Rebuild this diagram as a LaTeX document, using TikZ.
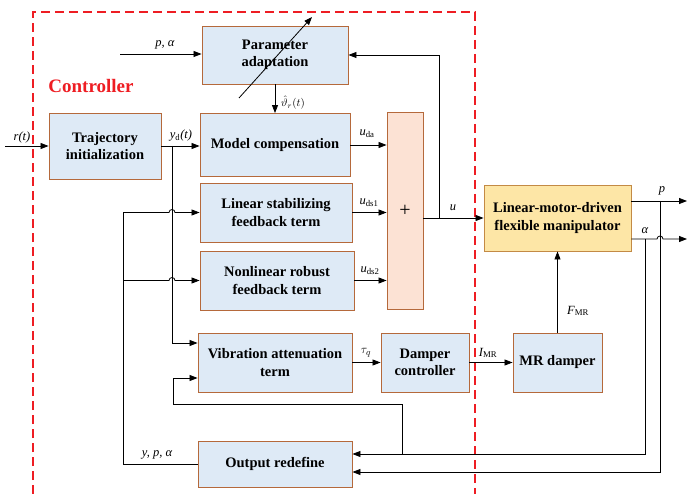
\documentclass[tikz,border=0pt]{standalone}
\usepackage{fontspec}
\setmainfont{Liberation Serif}
\usetikzlibrary{arrows.meta,calc}
\definecolor{boxblue}{HTML}{DEEAF6}
\definecolor{boxedge}{HTML}{B5693B}
\definecolor{sumfill}{HTML}{FCE2D4}
\definecolor{plantfill}{HTML}{FDE6A6}
\definecolor{plantedge}{HTML}{C38A45}
\definecolor{ctrlred}{HTML}{EE1D23}

\begin{document}
\begin{tikzpicture}[x=1pt, y=-1pt, >={Triangle[length=8pt,width=6pt]},
  every node/.style={font=\fontsize{14.5}{17.5}\selectfont\bfseries, align=center, inner sep=0pt},
  block/.style={draw=boxedge, fill=boxblue, line width=0.9pt},
  lab/.style={font=\fontsize{12.5}{14}\selectfont\itshape},
  line/.style={line width=0.8pt}]
  \useasboundingbox (0,0) rectangle (698,494);
  \draw[ctrlred, line width=1.4pt, dash pattern=on 9pt off 5pt] (33,494) -- (33,12) -- (475,12) -- (475,494);
  \node[text=ctrlred, font=\fontsize{19}{21}\selectfont\bfseries] (ctrl) at (91,86) {Controller};

  \node[block, minimum width=146, minimum height=58] (param) at (275,55) {Parameter\\adaptation};
  \node[block, minimum width=112, minimum height=66] (traj) at (105,146) {Trajectory\\initialization};
  \node[block, minimum width=150, minimum height=63] (model) at (275,145) {Model compensation};
  \node[block, minimum width=152, minimum height=59] (lin) at (276,212.5) {Linear stabilizing\\feedback term};
  \node[block, minimum width=154, minimum height=59] (nonlin) at (277,280.5) {Nonlinear robust\\feedback term};
  \node[block, fill=sumfill, minimum width=36, minimum height=197, font=\fontsize{20}{20}\selectfont] (sum) at (405,210.5) {+};
  \node[block, draw=plantedge, fill=plantfill, minimum width=147, minimum height=66] (manip) at (557.5,218) {Linear-motor-driven\\flexible manipulator};
  \node[block, minimum width=154, minimum height=59] (vib) at (275,362.5) {Vibration attenuation\\term};
  \node[block, minimum width=88, minimum height=59] (dampc) at (425,362.5) {Damper\\controller};
  \node[block, minimum width=89, minimum height=59] (mr) at (557.5,362.5) {MR damper};
  \node[block, minimum width=154, minimum height=46] (outr) at (275,464) {Output redefine};

  \coordinate (rin) at (5,146);
  \coordinate (pin) at (120,54);
  \coordinate (adapt1) at (239,98);
  \coordinate (adapt2) at (312,17);
  \coordinate (jyd) at (172,146);
  \coordinate (ju) at (439,218);
  \coordinate (fbtop) at (123,212.5);
  \coordinate (fbmid) at (123,280.5);
  \coordinate (pdown) at (660,201);
  \coordinate (pout) at (687,201);
  \coordinate (ajn) at (645,239);
  \coordinate (aout) at (687,239);
  \coordinate (vbr) at (402,454);
  \coordinate (vloop) at (173,404);

  \draw[line,->] (rin) -- (traj.west);
  \draw[line,->] (pin) -- (param.west |- pin);
  \draw[line,->] (adapt1) -- (adapt2);
  \draw[line,->] (param.south) -- (model.north);
  \draw[line,->] (traj.east) -- (model.west |- jyd);
  \draw[line,->] (jyd) |- ([yshift=19.5pt]vib.west);
  \draw[line,->] (model.east) -- (sum.west |- model.east);
  \draw[line,->] (lin.east) -- (sum.west |- lin.east);
  \draw[line,->] (nonlin.east) -- (sum.west |- nonlin.east);
  \draw[line,->] (sum.east |- ju) -- (manip.west |- ju);
  \draw[line,->] (ju) |- (param.east);
  \draw[line,->] (vib.east) -- (dampc.west);
  \draw[line,->] (dampc.east) -- (mr.west);
  \draw[line,->] (mr.north) -- (manip.south);
  \draw[line,->] (manip.east |- pout) -- (pout);
  \draw[line,->] (manip.east |- aout) -- ($(pdown |- aout)+(-3,0)$) arc[start angle=180, end angle=0, radius=3pt] -- (aout);
  \draw[line,->] (pdown) |- ([yshift=-8pt]outr.east);
  \draw[line,->] (ajn) |- ([yshift=10pt]outr.east);
  \draw[line,->] (vbr) |- (vloop) |- ([yshift=-15.5pt]vib.west);
  \draw[line] (outr.west) -| (fbtop);
  \draw[line,->] (fbtop) -- ($(jyd |- fbtop)+(-3,0)$) arc[start angle=180, end angle=0, radius=3pt] -- (lin.west);
  \draw[line,->] (fbmid) -- ($(jyd |- fbmid)+(-3,0)$) arc[start angle=180, end angle=0, radius=3pt] -- (nonlin.west);

  \node[lab] (lpa) at (165,45) {p, α};
  \node[lab] (lr) at (22,137) {r(t)};
  \node[lab] (lyd) at (181,136) {y\textsubscript{\textup{d}}(t)};
  \node[lab, font=\fontsize{11}{12}\selectfont] (lth) at (293,103) {$\hat{\vartheta}_r(t)$};
  \node[lab] (luda) at (367,134) {u\textsubscript{\textup{da}}};
  \node[lab] (luds1) at (369,203) {u\textsubscript{\textup{ds1}}};
  \node[lab] (luds2) at (370,271) {u\textsubscript{\textup{ds2}}};
  \node[lab] (lu) at (453,208) {u};
  \node[lab] (lp) at (662,191) {p};
  \node[lab] (la) at (645,231) {α};
  \node[lab] (lf) at (578,311) {F\textsubscript{\textup{MR}}};
  \node[lab] (ltau) at (366,353) {$\tau_q$};
  \node[lab] (li) at (488,353) {I\textsubscript{\textup{MR}}};
  \node[lab] (lypa) at (157,455) {y, p, α};
\end{tikzpicture}
\end{document}
